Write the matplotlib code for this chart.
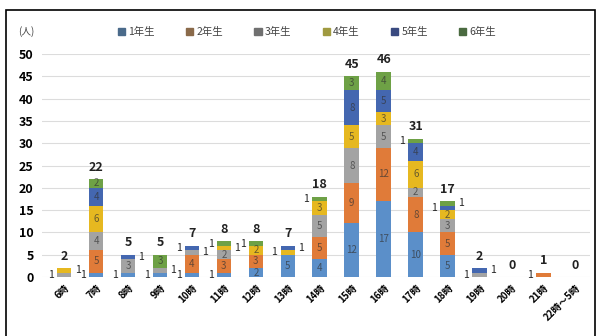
import numpy as np
import matplotlib.pyplot as plt
from matplotlib.patches import Rectangle

plt.rcParams['font.family'] = ['Noto Sans CJK JP', 'DejaVu Sans']

hours = ['6時', '7時', '8時', '9時', '10時', '11時', '12時', '13時', '14時',
         '15時', '16時', '17時', '18時', '19時', '20時', '21時', '22時～5時']
grades = ['1年生', '2年生', '3年生', '4年生', '5年生', '6年生']

g1 = [0, 1, 1, 1, 1, 1, 2, 5, 4, 12, 17, 10, 5, 0, 0, 0, 0]
g2 = [0, 5, 0, 0, 4, 3, 3, 0, 5, 9, 12, 8, 5, 0, 0, 1, 0]
g3 = [1, 4, 3, 1, 1, 2, 0, 0, 5, 8, 5, 2, 3, 1, 0, 0, 0]
g4 = [1, 6, 0, 0, 0, 1, 2, 1, 3, 5, 3, 6, 2, 0, 0, 0, 0]
g5 = [0, 4, 1, 0, 1, 0, 0, 1, 0, 8, 5, 4, 1, 1, 0, 0, 0]
g6 = [0, 2, 0, 3, 0, 1, 1, 0, 1, 3, 4, 1, 1, 0, 0, 0, 0]

colors = ['#5b8fc9', '#e07b39', '#a3a3a3', '#e6b820', '#4467b0', '#6ea146']
legend_colors = ['#4a6a8a', '#8a6a4a', '#707070', '#a09a40', '#3a4a80', '#4a6a40']

fig = plt.figure(figsize=(5.98, 3.36), dpi=100)
ax = fig.add_axes([42 / 598, 59 / 336, 548 / 598, 223 / 336])

# frame around the whole chart
fig.patches.append(Rectangle((6 / 598, -0.1), 589 / 598, 1.1 - 10 / 336,
                             transform=fig.transFigure, fill=False,
                             edgecolor='black', linewidth=1.2))

x = np.arange(len(hours))
series = [g1, g2, g3, g4, g5, g6]
bottom = np.zeros(len(hours))
for vals, c in zip(series, colors):
    v = np.array(vals, dtype=float)
    ax.bar(x, v, width=0.46, bottom=bottom, color=c, edgecolor='none', zorder=3)
    bottom += v

# segment value labels; single-count segments sit beside the bar
for i in range(len(hours)):
    base = 0
    side = -1
    for vals in series:
        v = vals[i]
        if v > 0:
            mid = base + v / 2
            if v == 1:
                ax.text(x[i] + side * 0.42, mid, '1', ha='center', va='center',
                        fontsize=7.5, color='#222222', zorder=4)
                side = -side
            else:
                ax.text(x[i], mid, str(v), ha='center', va='center',
                        fontsize=7, color='#333333', alpha=0.7, zorder=4)
        base += v

totals = bottom
for xi, t in zip(x, totals):
    ax.text(xi, t + 1.2, f'{int(t)}', ha='center', va='bottom',
            fontsize=9, fontweight='bold', color='#222222')

ax.set_ylim(0, 50)
ax.set_xlim(-0.69, 16.45)
ax.set_yticks(range(0, 51, 5))
ax.yaxis.grid(True, color='#dcdcdc', linewidth=0.8, zorder=0)
ax.set_axisbelow(True)
for s in ax.spines.values():
    s.set_visible(False)
ax.tick_params(axis='both', length=0)
ax.tick_params(axis='y', labelsize=9, pad=6)
for lab in ax.get_yticklabels():
    lab.set_fontweight('bold')
ax.set_xticks(x)
ax.set_xticklabels(hours, rotation=45, ha='right', rotation_mode='anchor',
                   fontsize=7, fontweight='bold')
ax.tick_params(axis='x', pad=4)

fig.text(18 / 598, 1 - 32 / 336, '(人)', fontsize=7, color='#444444',
         va='center', ha='left')

handles = [Rectangle((0, 0), 1, 1, color=c) for c in legend_colors]
fig.legend(handles, grades, loc='center', bbox_to_anchor=(307 / 598, 1 - 32 / 336),
           ncol=6, frameon=False, fontsize=7.5, handlelength=0.7, handleheight=0.7,
           handletextpad=0.3, columnspacing=3.0, labelcolor='#444444')

fig.savefig('out.png', dpi=100)
